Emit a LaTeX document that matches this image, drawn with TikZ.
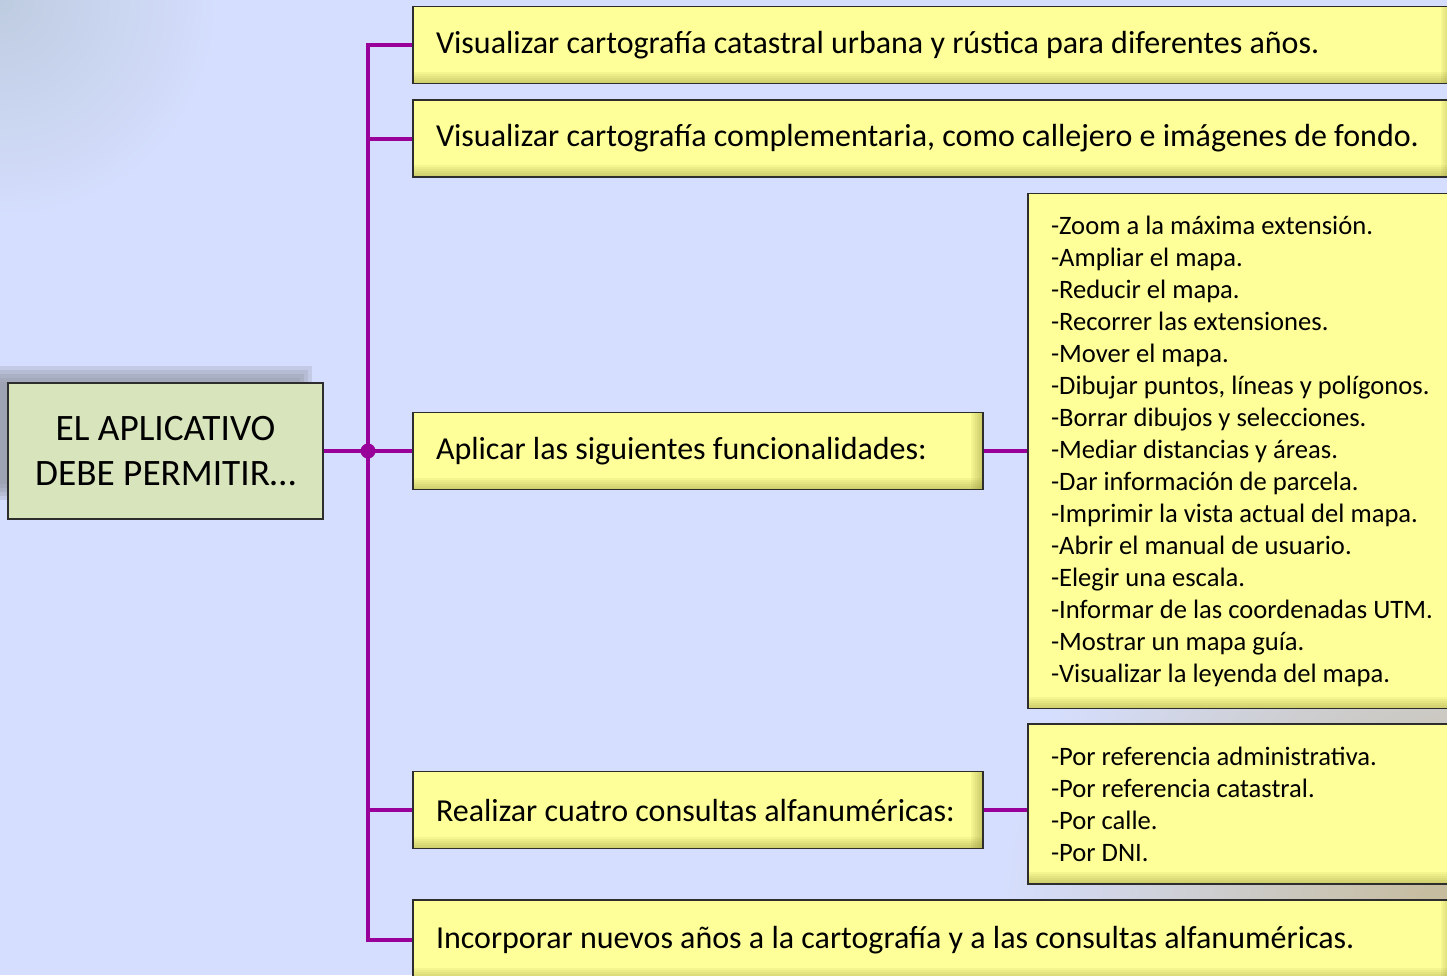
\documentclass[tikz,border=0pt]{standalone}
\usepackage{fontspec}
\setmainfont{Carlito}
\usetikzlibrary{positioning,calc}
\definecolor{fondo}{RGB}{213,222,254}
\definecolor{esquina}{RGB}{190,204,224}
\definecolor{tostado}{RGB}{196,184,146}
\definecolor{amarillo}{RGB}{255,255,153}
\definecolor{amarilloosc}{RGB}{150,150,60}
\definecolor{verde}{RGB}{216,228,188}
\definecolor{morado}{RGB}{153,0,153}
\definecolor{borde}{RGB}{45,45,45}
\tikzset{
  % cajas amarillas con sombreado abajo y a la derecha
  caja/.style={draw=borde, line width=1.6pt, fill=amarillo, align=flush left,
    inner xsep=23pt, inner ysep=0pt, minimum height=77pt,
    path picture={
      \foreach \h in {2,4,...,12}{
        \fill[amarilloosc, opacity=0.09]
          ($(path picture bounding box.south west)+(0,-\h)$) rectangle (path picture bounding box.south east);
        \fill[amarilloosc, opacity=0.09]
          ($(path picture bounding box.north east)+(-\h,0)$) rectangle (path picture bounding box.south east);
      }
    }},
  larga/.style={caja, minimum width=1040pt, text width=994pt, font=\fontsize{32}{38}\selectfont},
  corta/.style={caja, minimum width=570pt, text width=524pt, font=\fontsize{32}{38}\selectfont},
  lista/.style={caja, minimum width=425pt, text width=390pt, font=\fontsize{26.6}{32}\selectfont},
  raiz/.style={draw=borde, line width=1.6pt, fill=verde, align=center,
    minimum width=315pt, minimum height=136pt, font=\fontsize{37.3}{45}\selectfont},
  rama/.style={draw=morado, line width=4pt},
}
\begin{document}
\begin{tikzpicture}[x=1pt,y=-1pt]
  \useasboundingbox (0,0) rectangle (1447,975);
  \clip (0,0) rectangle (1447,975);
  % fondo
  \fill[fondo] (0,0) rectangle (1447,975);
  \shade[inner color=esquina, outer color=fondo] (0,0) circle (220);
  \shade[inner color=tostado, outer color=fondo] (1480,930) circle (480);
  % sombra de la raiz
  \foreach \d/\o in {16/0.08,12/0.1,8/0.12,4/0.14,0/0.16}
    \fill[black!60, opacity=\o] (-20+\d,366+\d) rectangle (312-\d,500-\d);

  \node[raiz] (raiz) at (165.5,451) {EL APLICATIVO\\DEBE PERMITIR\ldots};

  \node[larga, anchor=west] (b1) at (412.2,45) {Visualizar cartografía catastral urbana y rústica para diferentes años.};
  \node[larga, anchor=west] (b2) at (412.2,138.5) {Visualizar cartografía complementaria, como callejero e imágenes de fondo.};
  \node[corta, anchor=west] (b3) at (412.2,451) {Aplicar las siguientes funcionalidades:};
  \node[corta, anchor=west] (b4) at (412.2,810) {Realizar cuatro consultas alfanuméricas:};
  \node[larga, anchor=west, minimum height=80pt] (b5) at (412.2,940) {Incorporar nuevos años a la cartografía y a las consultas alfanuméricas.};

  \node[lista, minimum height=515pt, right=43.4pt of b3] (l1) {-Zoom a la máxima extensión.\\
    -Ampliar el mapa.\\
    -Reducir el mapa.\\
    -Recorrer las extensiones.\\
    -Mover el mapa.\\
    -Dibujar puntos, líneas y polígonos.\\
    -Borrar dibujos y selecciones.\\
    -Mediar distancias y áreas.\\
    -Dar información de parcela.\\
    -Imprimir la vista actual del mapa.\\
    -Abrir el manual de usuario.\\
    -Elegir una escala.\\
    -Informar de las coordenadas UTM.\\
    -Mostrar un mapa guía.\\
    -Visualizar la leyenda del mapa.};
  \node[lista, minimum height=160pt, right=43.4pt of b4, yshift=6pt] (l2) {-Por referencia administrativa.\\
    -Por referencia catastral.\\
    -Por calle.\\
    -Por DNI.};

  % conectores
  \coordinate (eje) at (368,451);
  \draw[rama] (b1.west) -| (eje) |- (b5.west);
  \draw[rama] (b2.west) -- (b2.west -| eje);
  \draw[rama] (b4.west) -- (b4.west -| eje);
  \draw[rama] (raiz.east) -- (b3.west);
  \fill[morado] (eje) circle (7.5);
  \draw[rama] (b3.east) -- (l1.west);
  \draw[rama] (b4.east) -- (b4.east -| l2.west);
\end{tikzpicture}
\end{document}
